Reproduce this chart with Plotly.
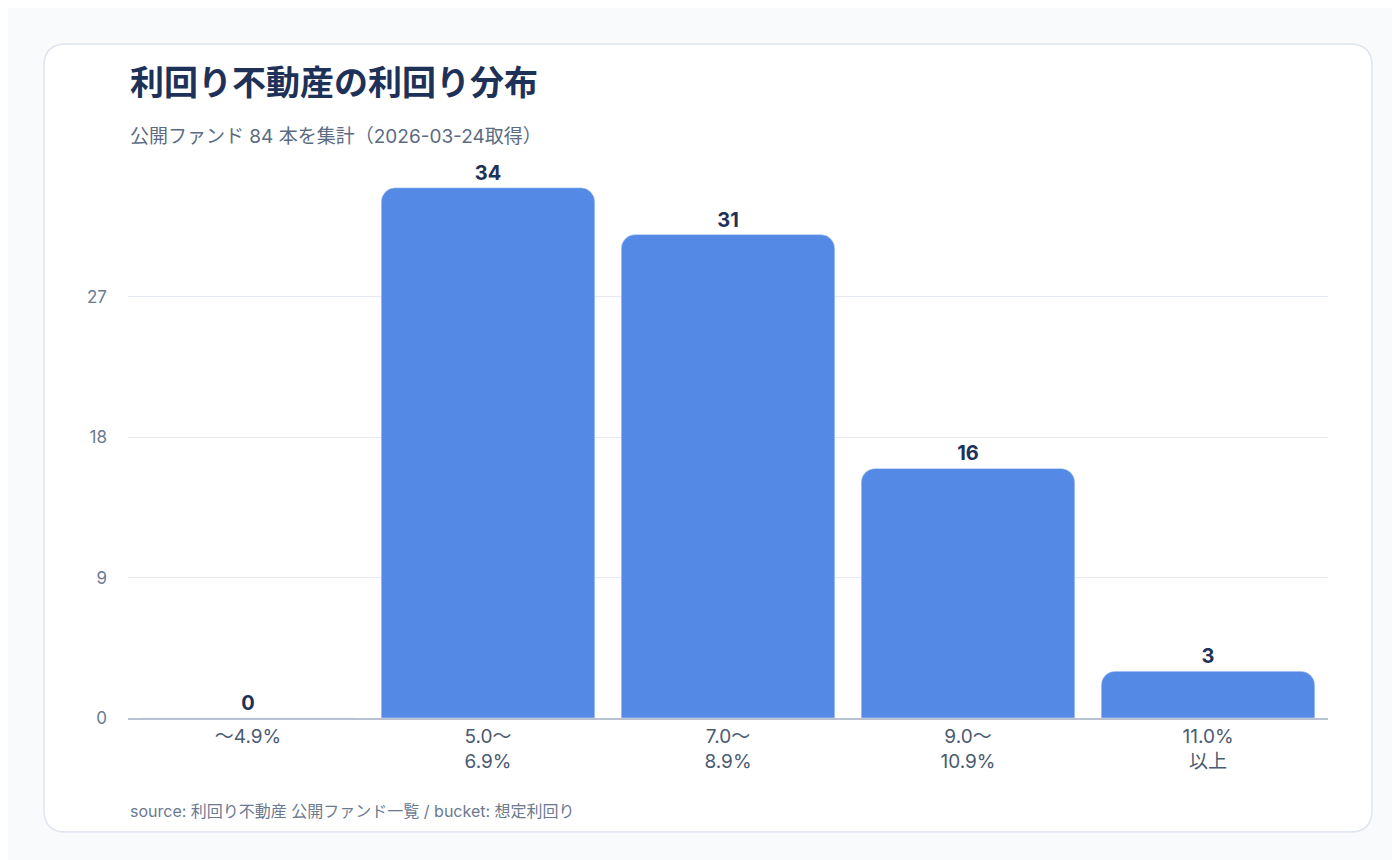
import plotly.graph_objects as go

categories = ["〜4.9%", "5.0〜<br>6.9%", "7.0〜<br>8.9%", "9.0〜<br>10.9%", "11.0%<br>以上"]
counts = [0, 34, 31, 16, 3]
tick_vals = [0, 9, 18, 27]

FONT = "Inter, Noto Sans CJK JP, sans-serif"

fig = go.Figure()
fig.add_trace(go.Bar(
    x=categories, y=counts,
    marker=dict(color="#5589e6", cornerradius=14),
    text=counts, textposition="outside", cliponaxis=False,
    textfont=dict(size=20, color="#1e3158", family=FONT, weight="bold"),
))

# card background (paper coords, plot area 120..1320 x, 133..710 y)
def px(x): return (x - 120) / 1200
def py(y): return (710 - y) / 577
x0, x1, y0, y1 = px(36), px(1364), py(824), py(36)
rx, ry = 22 / 1200, 22 / 577
path = (f"M {x0+rx},{y1} L {x1-rx},{y1} Q {x1},{y1} {x1},{y1-ry} "
        f"L {x1},{y0+ry} Q {x1},{y0} {x1-rx},{y0} L {x0+rx},{y0} "
        f"Q {x0},{y0} {x0},{y0+ry} L {x0},{y1-ry} Q {x0},{y1} {x0+rx},{y1} Z")
fig.add_shape(type="path", path=path, xref="paper", yref="paper",
              fillcolor="white", line=dict(color="#dfe5ee", width=1.5), layer="below")

fig.add_annotation(text="<b>利回り不動産の利回り分布</b>", x=0, y=py(75), xref="paper", yref="paper",
                   xanchor="left", yanchor="middle", showarrow=False,
                   font=dict(size=34, color="#1e3158", family=FONT))
fig.add_annotation(text="公開ファンド 84 本を集計（2026-03-24取得）", x=0, y=py(128), xref="paper", yref="paper",
                   xanchor="left", yanchor="middle", showarrow=False,
                   font=dict(size=19, color="#5b6b82", family=FONT))
fig.add_annotation(text="source: 利回り不動産 公開ファンド一覧 / bucket: 想定利回り", x=0, y=py(803),
                   xref="paper", yref="paper", xanchor="left", yanchor="middle", showarrow=False,
                   font=dict(size=16, color="#6b7a90", family=FONT))

fig.update_layout(
    width=1400, height=860,
    margin=dict(l=120, r=80, t=133, b=150),
    paper_bgcolor="#f8fafc", plot_bgcolor="white",
    bargap=0.11, showlegend=False,
    font=dict(family=FONT),
    xaxis=dict(tickfont=dict(size=19, color="#4a5a72"), showline=True,
               linecolor="#b8c2d0", linewidth=2, ticks=""),
    yaxis=dict(range=[0, 37], tickvals=tick_vals, gridcolor="#e5e9f0",
               tickfont=dict(size=17, color="#6b7a90"), zeroline=False, ticklabelstandoff=20),
)
fig.write_html("out.html")
